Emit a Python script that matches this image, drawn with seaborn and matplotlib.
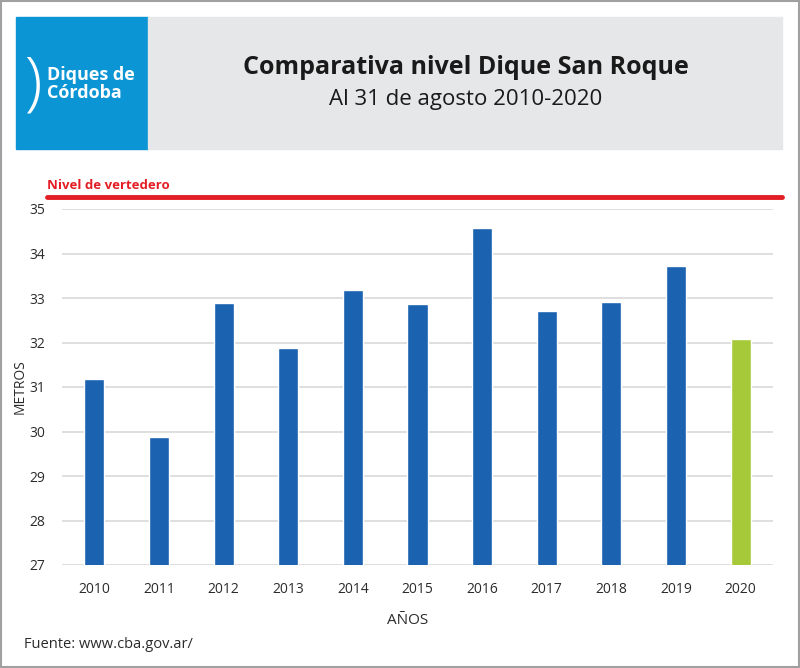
"""
Comparativa nivel Dique San Roque - bar chart recreation
"""

import matplotlib
matplotlib.use("Agg")
import matplotlib.pyplot as plt
from matplotlib.patches import Rectangle
import seaborn as sns
import pandas as pd

# ============================================================
# DATA
# ============================================================

years = ["2010", "2011", "2012", "2013", "2014", "2015",
         "2016", "2017", "2018", "2019", "2020"]
levels = [31.19, 29.88, 32.89, 31.87, 33.19, 32.87,
          34.57, 32.70, 32.92, 33.72, 32.08]
spillway_level = 35.26
y_ticks = [27, 28, 29, 30, 31, 32, 33, 34, 35]

df = pd.DataFrame({"year": years, "level": levels})

# ============================================================
# STYLE
# ============================================================

sns.set_theme(style="white")
FONT = ["Open Sans", "DejaVu Sans"]
plt.rcParams["font.family"] = FONT

BLUE = "#1b62b0"
GREEN = "#a6c93a"
RED = "#e31e24"
TXT = "#2b2b2b"

palette = [BLUE] * (len(years) - 1) + [GREEN]

fig = plt.figure(figsize=(8, 6.68), dpi=100)
fig.patch.set_facecolor("white")

# outer border
fig.patches.append(Rectangle((0.001, 0.001), 0.998, 0.997, transform=fig.transFigure,
                             fill=False, edgecolor="#a0a0a0", lw=1.5))

# header boxes
fig.patches.append(Rectangle((16 / 800, 1 - 149 / 668), 132 / 800, 132 / 668,
                             transform=fig.transFigure, color="#0b95d5", zorder=0))
fig.patches.append(Rectangle((148 / 800, 1 - 149 / 668), 634 / 800, 132 / 668,
                             transform=fig.transFigure, color="#e6e7e8", zorder=0))

fig.text(33 / 800, 1 - 86 / 668, ")", color="white", fontsize=46, ha="center",
         va="center", fontweight="light")
fig.text(47 / 800, 1 - 75 / 668, "Diques de", color="white", fontsize=13,
         fontweight="bold", va="center")
fig.text(47 / 800, 1 - 93 / 668, "Córdoba", color="white", fontsize=13,
         fontweight="bold", va="center")

fig.text(466 / 800, 1 - 68 / 668, "Comparativa nivel Dique San Roque", color="#1a1a1a",
         fontsize=18, fontweight="bold", ha="center", va="center")
fig.text(466 / 800, 1 - 100 / 668, "Al 31 de agosto 2010-2020", color="#1a1a1a",
         fontsize=16, ha="center", va="center")

# ============================================================
# CHART
# ============================================================

ax = fig.add_axes([62 / 800, 103 / 668, 711 / 800, 356 / 668])
sns.barplot(data=df, x="year", y="level", hue="year", palette=palette,
            legend=False, width=0.31, saturation=1, ax=ax, zorder=3)
ax.set_ylim(27, 35)
ax.set_yticks(y_ticks)
ax.yaxis.grid(True, color="#d9d9d9", lw=1.2, zorder=0)
ax.set_axisbelow(True)
for s in ax.spines.values():
    s.set_visible(False)
ax.tick_params(axis="both", length=0, labelsize=10, colors=TXT)
ax.tick_params(axis="y", pad=12)
ax.tick_params(axis="x", pad=12)
ax.set_xlabel("")
ax.set_ylabel("")

# spillway level line, running past the axes on both sides
ax.axhline(spillway_level, xmin=-15 / 711, xmax=720 / 711, color=RED, lw=3.5,
           clip_on=False, zorder=4)
fig.text(47 / 800, 1 - 186 / 668, "Nivel de vertedero", color=RED, fontsize=9.5,
         fontweight="bold", va="center")

fig.text(20 / 800, 1 - 387 / 668, "METROS", rotation=90, fontsize=10, color=TXT,
         ha="center", va="center")
fig.text(408 / 800, 1 - 621 / 668, "AÑOS", fontsize=11, color=TXT,
         ha="center", va="center")
fig.text(24 / 800, 1 - 644 / 668, "Fuente: www.cba.gov.ar/", fontsize=10.5, color=TXT,
         va="center")

fig.savefig("out.png", dpi=100)
